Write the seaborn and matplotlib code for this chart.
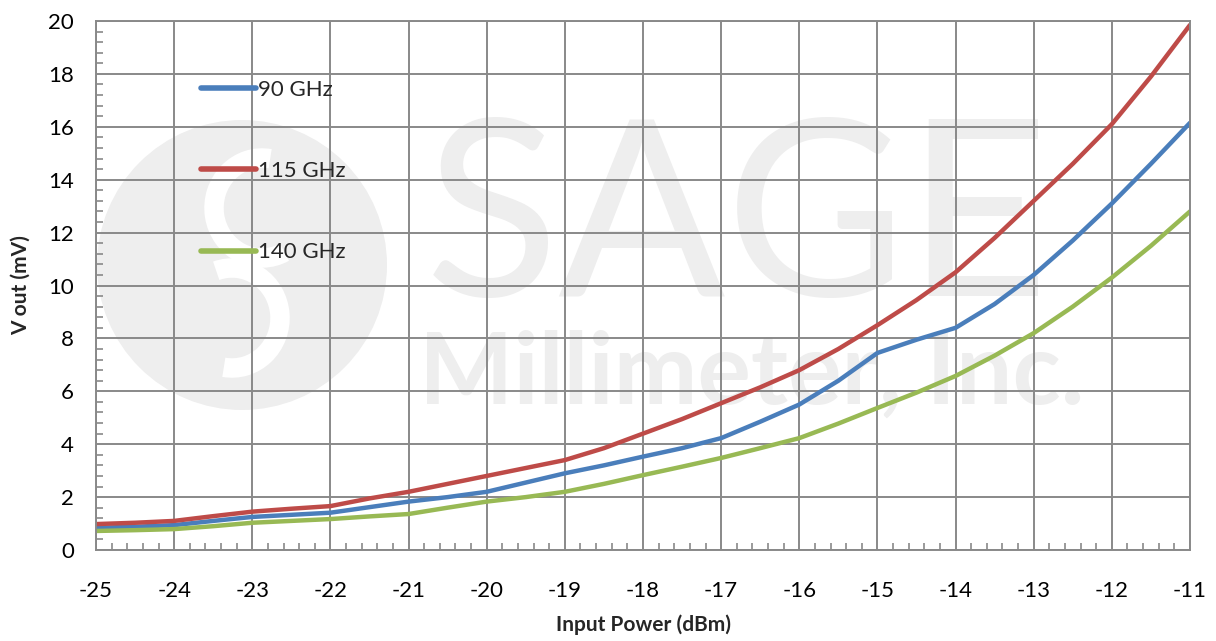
import numpy as np
import pandas as pd
import matplotlib
matplotlib.use("Agg")
import matplotlib.pyplot as plt
import seaborn as sns
from matplotlib.patches import Ellipse, Arc
from matplotlib.ticker import MultipleLocator

# values
power = [-25, -24.5, -24, -23.5, -23, -22.5, -22, -21.5, -21, -20.5, -20, -19.5, -19,
         -18.5, -18, -17.5, -17, -16.5, -16, -15.5, -15, -14.5, -14, -13.5, -13,
         -12.5, -12, -11.5, -11]
v_90 = [0.84, 0.88, 0.94, 1.1, 1.25, 1.33, 1.41, 1.62, 1.83, 2.0, 2.2, 2.55, 2.9,
        3.2, 3.53, 3.85, 4.23, 4.85, 5.5, 6.4, 7.45, 7.95, 8.4, 9.3, 10.4,
        11.7, 13.1, 14.6, 16.15]
v_115 = [0.98, 1.03, 1.1, 1.28, 1.45, 1.56, 1.66, 1.95, 2.2, 2.5, 2.8, 3.1, 3.4,
         3.85, 4.4, 4.95, 5.55, 6.15, 6.8, 7.6, 8.5, 9.45, 10.5, 11.8, 13.2,
         14.6, 16.1, 17.9, 19.85]
v_140 = [0.72, 0.75, 0.79, 0.9, 1.03, 1.1, 1.17, 1.27, 1.36, 1.6, 1.83, 2.0, 2.2,
         2.5, 2.83, 3.15, 3.48, 3.85, 4.23, 4.78, 5.37, 5.95, 6.58, 7.35, 8.2,
         9.2, 10.3, 11.5, 12.8]
labels = ["90 GHz", "115 GHz", "140 GHz"]
colors = ["#4a7ebb", "#be4b48", "#98b954"]

df = pd.concat([
    pd.DataFrame({"power": power, "vout": v, "freq": lab})
    for v, lab in zip([v_90, v_115, v_140], labels)
])

sns.set_style("white")
plt.rcParams["font.family"] = ["Lato", "DejaVu Sans"]
plt.rcParams["axes.unicode_minus"] = False

W, H = 1216, 641
fig = plt.figure(figsize=(W / 100, H / 100), dpi=100)
ax = fig.add_axes([96 / W, 1 - 550 / H, (1190 - 96) / W, (550 - 21) / H])

# watermark
wm = "#eeeeee"
ax.add_patch(Ellipse((242 / W, 1 - 265 / H), 290 / W, 290 / H, transform=fig.transFigure,
                     color=wm, zorder=0.1, lw=0))
ax.add_patch(Arc((262 / W, 1 - 208 / H), 96 / W, 100 / H, theta1=85, theta2=285,
                 transform=fig.transFigure, color="white", lw=14, zorder=0.15))
ax.add_patch(Arc((232 / W, 1 - 318 / H), 96 / W, 100 / H, theta1=-95, theta2=100,
                 transform=fig.transFigure, color="white", lw=14, zorder=0.15))
ax.text(737 / W, 1 - 226 / H, "SAGE", transform=fig.transFigure, color=wm,
        fontsize=178, fontweight="normal", ha="center", va="center", zorder=0.2)
ax.text(752 / W, 1 - 375 / H, "Millimeter, Inc.", transform=fig.transFigure, color=wm,
        fontsize=72, fontweight="bold", ha="center", va="center", zorder=0.2)

sns.lineplot(data=df, x="power", y="vout", hue="freq", palette=colors,
             linewidth=3.2, ax=ax, legend=True)

ax.set_xlim(-25, -11)
ax.set_ylim(0, 20)
ax.set_xticks(np.arange(-25, -10, 1))
ax.set_yticks(np.arange(0, 21, 2))
ax.xaxis.set_minor_locator(MultipleLocator(0.2))
ax.yaxis.set_minor_locator(MultipleLocator(0.4))
ax.tick_params(which="major", length=0, labelsize=16, colors="black")
ax.tick_params(axis="x", which="major", pad=22)
ax.tick_params(axis="y", which="major", pad=16)
ax.tick_params(which="minor", direction="in", length=5, width=1.2, color="#898989",
               left=True, bottom=True)
ax.set_axisbelow(True)
ax.grid(True, which="major", color="#898989", linewidth=1.4)
for s in ax.spines.values():
    s.set_color("#898989")
    s.set_linewidth(1.4)

ax.set_xlabel("Input Power (dBm)", fontsize=15, fontweight="bold", labelpad=10)
ax.set_ylabel("V out (mV)", fontsize=15, fontweight="bold", labelpad=12)

leg = ax.legend(loc="upper left", bbox_to_anchor=(0.088, 0.905), frameon=False,
                fontsize=16, handlelength=2.45, handletextpad=0.1, labelspacing=2.75,
                borderaxespad=0)
for h in leg.get_lines():
    h.set_linewidth(4)
    h.set_solid_capstyle("round")

fig.savefig("out.png", dpi=100)
